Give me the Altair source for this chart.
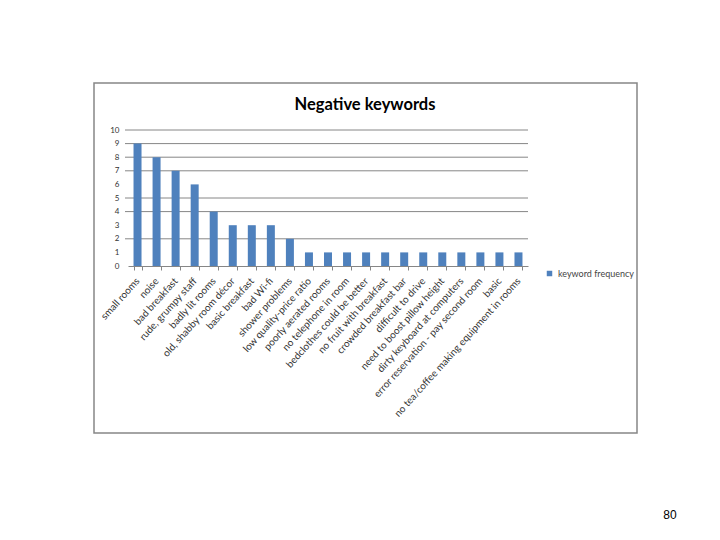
import altair as alt
import pandas as pd

keywords = [
    "small rooms", "noise", "bad breakfast", "rude, grumpy staff", "badly lit rooms",
    "old, shabby room décor", "basic breakfast", "bad Wi-fi", "shower problems",
    "low quality-price ratio", "poorly aerated rooms", "no telephone in room",
    "bedclothes could be better", "no fruit with breakfast", "crowded breakfast bar",
    "difficult to drive", "need to boost pillow height", "dirty keyboard at computers",
    "error reservation - pay second room", "basic",
    "no tea/coffee making equipment in rooms",
]
frequency = [9, 8, 7, 6, 4, 3, 3, 3, 2, 1, 1, 1, 1, 1, 1, 1, 1, 1, 1, 1, 1]
series_name = "keyword frequency"
chart_title = "Negative keywords"
page_label = "80"
y_ticks = list(range(0, 11))
grid_values = [10, 9, 8, 7, 5, 4, 2]

df = pd.DataFrame({"keyword": keywords, "freq": frequency, "series": series_name})
grid_df = pd.DataFrame({"v": grid_values})

FONT = "Lato"
W, H = 400, 136
PL, PT = 120, 122

y_axis = alt.Axis(
    values=y_ticks, grid=False, domain=False, ticks=False,
    labelOverlap=False, labelFont=FONT, labelFontSize=8,
    labelColor="#333333", labelPadding=9, title=None,
)
y_scale = alt.Scale(domain=[0, 10])

frame = alt.Chart(alt.Data(values=[{"a": 1}])).mark_rect(
    fill=None, stroke="#868686", strokeWidth=1.5
).encode(
    x=alt.value(-34), x2=alt.value(509), y=alt.value(-47), y2=alt.value(303)
)

title = alt.Chart(alt.Data(values=[{"t": chart_title}])).mark_text(
    font=FONT, fontSize=16.5, fontWeight="bold", color="#000000",
    baseline="alphabetic", align="center",
).encode(
    x=alt.value(237), y=alt.value(-20), text="t:N"
)

page_no = alt.Chart(alt.Data(values=[{"t": page_label}])).mark_text(
    font="Liberation Sans", fontSize=12, color="#000000"
).encode(
    x=alt.value(542), y=alt.value(385), text="t:N"
)

grid = alt.Chart(grid_df).mark_rule(color="#868686", strokeWidth=1).encode(
    y=alt.Y("v:Q", scale=y_scale, axis=y_axis, title=None),
    x=alt.value(-3), x2=alt.value(W),
)

bars = alt.Chart(df).mark_bar().encode(
    x=alt.X(
        "keyword:N", sort=None, title=None,
        scale=alt.Scale(paddingInner=0.58, paddingOuter=0.29),
        axis=alt.Axis(
            labelAngle=312, labelAlign="right", labelBaseline="middle",
            labelFont=FONT, labelFontSize=10, labelColor="#333333",
            labelPadding=9, domainColor="#868686", tickColor="#868686",
            tickSize=4, tickBand="extent", labelLimit=300, labelOverlap=False,
        ),
    ),
    y=alt.Y("freq:Q", title=None, scale=y_scale, axis=y_axis),
    color=alt.Color(
        "series:N", scale=alt.Scale(range=["#4F81BD"]), title=None,
        legend=alt.Legend(
            orient="none", legendX=417, legendY=139, symbolType="square",
            symbolSize=30, labelFont=FONT, labelFontSize=9, labelColor="#444444",
            symbolStrokeWidth=0,
        ),
    ),
)

chart = alt.layer(frame, grid, bars, title, page_no).properties(
    width=W, height=H,
    autosize=alt.AutoSizeParams(type="none"),
    padding={"left": PL, "top": PT, "right": 704 - PL - W, "bottom": 524 - PT - H},
).configure_view(stroke=None)

chart.save("out.html", embed_options={"renderer": "svg", "actions": False})
